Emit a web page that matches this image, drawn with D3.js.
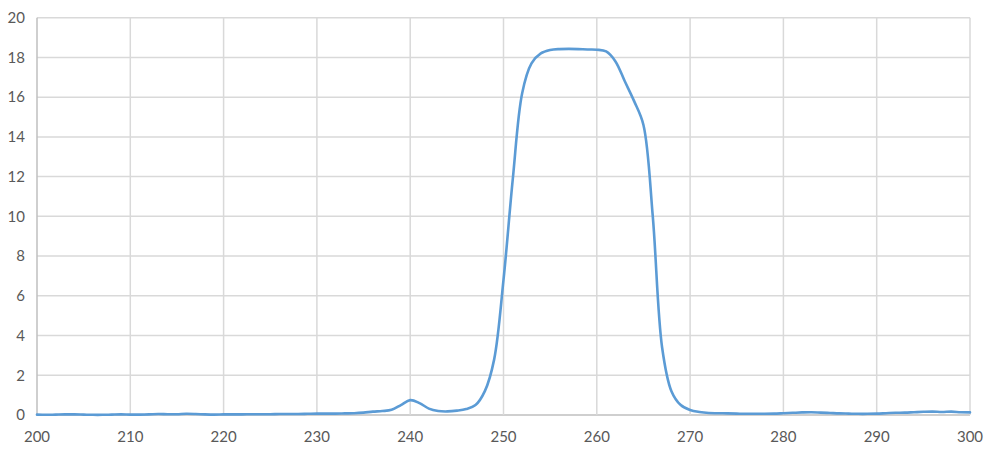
<!DOCTYPE html>
<html><head><meta charset="utf-8">
<script src="https://cdn.jsdelivr.net/npm/d3@7"></script>
<style>body{margin:0;background:#fff}svg{display:block}</style>
</head><body>
<svg id="c" width="992" height="451"></svg>
<script>
const wavelengths = d3.range(200, 301, 1);
const values = [
0.02,0.01,0.02,0.03,0.03,0.02,0.01,0.01,0.02,0.03,
0.02,0.02,0.03,0.05,0.04,0.04,0.06,0.05,0.03,0.02,
0.03,0.03,0.03,0.04,0.04,0.04,0.05,0.05,0.05,0.06,
0.07,0.07,0.07,0.08,0.09,0.12,0.17,0.20,0.26,0.50,
0.75,0.60,0.32,0.20,0.18,0.22,0.30,0.50,1.20,2.80,
6.80,11.9,16.2,17.7,18.2,18.37,18.42,18.43,18.42,18.40,
18.39,18.30,17.8,16.8,15.8,14.6,10.0,3.4,1.2,0.50,
0.25,0.15,0.10,0.09,0.08,0.07,0.06,0.06,0.06,0.07,
0.09,0.11,0.13,0.14,0.12,0.10,0.08,0.07,0.06,0.06,
0.07,0.09,0.11,0.12,0.14,0.16,0.17,0.15,0.17,0.14,
0.13];
const xTicks = d3.range(200, 301, 10);
const yTicks = d3.range(0, 21, 2);

const svg = d3.select("#c");
const L = 37, R = 970, T = 17.7, B = 415;
const x = d3.scaleLinear().domain([200, 300]).range([L, R]);
const y = d3.scaleLinear().domain([0, 20]).range([B, T]);

const grid = svg.append("g");
grid.selectAll("line.h").data(yTicks).join("line")
  .attr("x1", L).attr("x2", R).attr("y1", d => y(d)).attr("y2", d => y(d))
  .attr("stroke", d => d === 0 ? "#BFBFBF" : "#D9D9D9").attr("stroke-width", 1.5);
grid.selectAll("line.v").data(xTicks).join("line")
  .attr("y1", T).attr("y2", B).attr("x1", d => x(d)).attr("x2", d => x(d))
  .attr("stroke", d => d === 200 ? "#BFBFBF" : "#D9D9D9").attr("stroke-width", 1.5);

const font = "Lato, 'Open Sans', sans-serif";
svg.append("g").selectAll("text").data(yTicks).join("text")
  .attr("x", 25).attr("y", d => y(d)).attr("dy", "0.35em")
  .attr("text-anchor", "end").attr("font-family", font).attr("font-size", 15)
  .attr("fill", "#595959").text(d => d);
svg.append("g").selectAll("text").data(xTicks).join("text")
  .attr("x", d => x(d)).attr("y", 442)
  .attr("text-anchor", "middle").attr("font-family", font).attr("font-size", 15)
  .attr("fill", "#595959").text(d => d);

const line = d3.line().x((d, i) => x(wavelengths[i])).y(d => y(d)).curve(d3.curveCatmullRom.alpha(0.5));
svg.append("path").datum(values).attr("d", line)
  .attr("fill", "none").attr("stroke", "#5B9BD5").attr("stroke-width", 2.6)
  .attr("stroke-linejoin", "round").attr("stroke-linecap", "round");
</script>
</body></html>
